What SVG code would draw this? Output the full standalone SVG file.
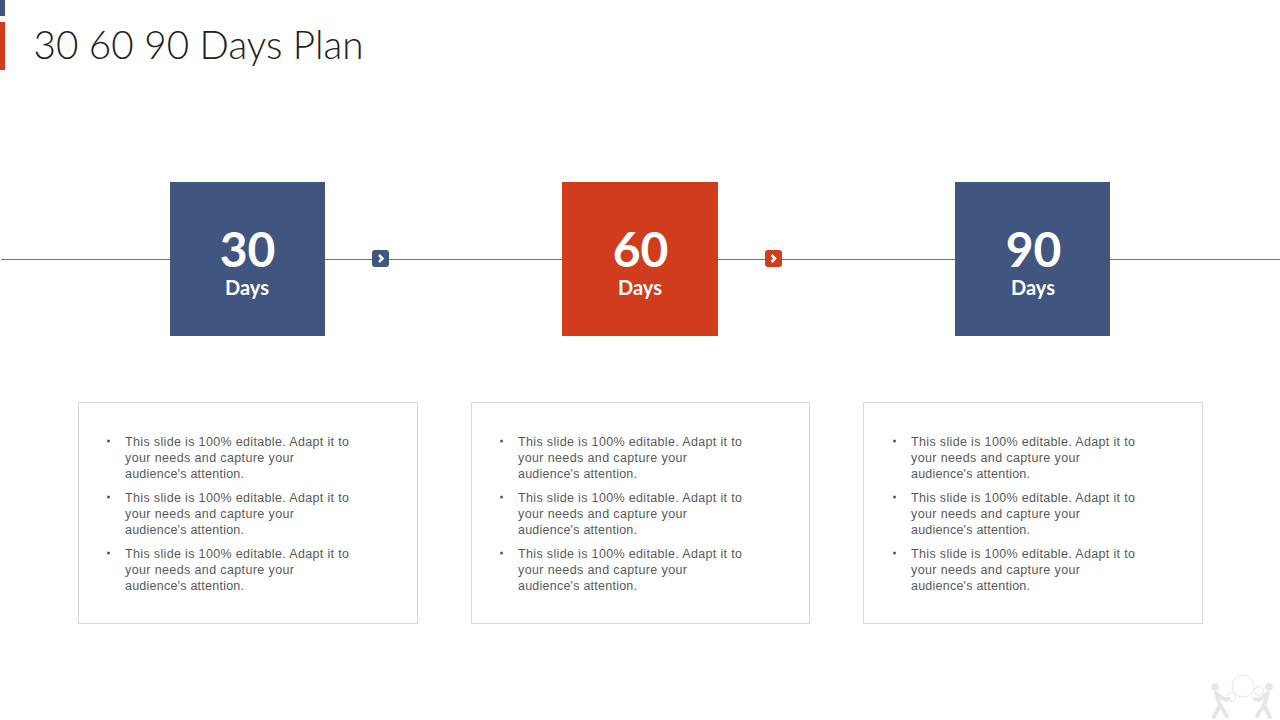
<svg xmlns="http://www.w3.org/2000/svg" width="1280" height="720" viewBox="0 0 1280 720">
<style>
.blue{fill:#40557f}.red{fill:#d03c1c}
.title{font:300 38.500px Lato,"Open Sans",sans-serif;fill:#222}
.num{font:700 48px Lato,"Open Sans",sans-serif;fill:#fff;text-anchor:middle}
.days{font:700 20px Lato,"Open Sans",sans-serif;fill:#fff;text-anchor:middle}
.box{fill:#fff;stroke:#d9d9d9;stroke-width:1}
.body{font:400 12.500px "Liberation Sans",Arial,sans-serif;fill:#595959}
.line{stroke:#6f7787;stroke-width:1;fill:none}
.chev{fill:none;stroke:#fff;stroke-width:2.500}
.fig{fill:#e6e6e6}.figl{stroke:#e6e6e6;stroke-width:4;fill:none;stroke-linecap:round;stroke-linejoin:round}
</style>
<defs>
<g id="bul">
<circle cx="0" cy="-4" r="1.500" fill="#595959"/>
</g>
<g id="copy">
<use href="#bul" x="108.500" y="445"/>
<text class="body" x="125" y="445.500" textLength="224">This slide is 100% editable. Adapt it to</text>
<text class="body" x="125" y="461.500" textLength="169">your needs and capture your</text>
<text class="body" x="125" y="477.500" textLength="119">audience's attention.</text>
<use href="#bul" x="108.500" y="501"/>
<text class="body" x="125" y="501.500" textLength="224">This slide is 100% editable. Adapt it to</text>
<text class="body" x="125" y="517.500" textLength="169">your needs and capture your</text>
<text class="body" x="125" y="533.500" textLength="119">audience's attention.</text>
<use href="#bul" x="108.500" y="557"/>
<text class="body" x="125" y="557.500" textLength="224">This slide is 100% editable. Adapt it to</text>
<text class="body" x="125" y="573.500" textLength="169">your needs and capture your</text>
<text class="body" x="125" y="589.500" textLength="119">audience's attention.</text>
</g>
</defs>
<rect width="1280" height="720" fill="#fff"/>
<g id="accent">
<rect class="blue" x="0" y="0" width="5" height="16"/>
<rect class="red" x="0" y="22" width="5" height="48"/>
</g>
<text id="title" class="title" x="33.500" y="59" textLength="330" lengthAdjust="spacingAndGlyphs">30 60 90 Days Plan</text>
<g id="connectors">
<path class="line" d="M1 259.500H170M325 259.500H562M718 259.500H955M1110 259.500H1280"/>
<g id="arrow-1"><rect class="blue" x="372" y="250" width="17" height="17" rx="3"/><path class="chev" d="M379 255l3.500 3.500-3.500 3.500"/></g>
<g id="arrow-2"><rect class="red" x="765" y="250" width="17" height="17" rx="3"/><path class="chev" d="M771.500 255l3.500 3.500-3.500 3.500"/></g>
</g>
<g id="node-30"><rect class="blue" x="170" y="182" width="155" height="154"/><text class="num" x="247.500" y="267">30</text><text class="days" x="247" y="295">Days</text></g>
<g id="node-60"><rect class="red" x="562" y="182" width="156" height="154"/><text class="num" x="640.500" y="267">60</text><text class="days" x="640" y="295">Days</text></g>
<g id="node-90"><rect class="blue" x="955" y="182" width="155" height="154"/><text class="num" x="1033.500" y="267">90</text><text class="days" x="1033" y="295">Days</text></g>
<g id="card-1"><rect class="box" x="78.500" y="402.500" width="339" height="221"/><use href="#copy"/></g>
<g id="card-2"><rect class="box" x="471.500" y="402.500" width="338" height="221"/><use href="#copy" x="393"/></g>
<g id="card-3"><rect class="box" x="863.500" y="402.500" width="339" height="221"/><use href="#copy" x="786"/></g>
<g id="logo">
<circle cx="1243" cy="686" r="11" fill="none" stroke="#e6e6e6" stroke-width="1"/>
<circle class="fig" cx="1215" cy="687" r="3.800"/>
<circle class="fig" cx="1269" cy="687" r="3.800"/>
<path class="figl" d="M1216 693l4 12-6 12M1220 705l7 11M1217 694l8 6 4-1"/>
<path class="figl" d="M1268 693l-4 12 6 12M1264 705l-7 11M1267 694l-8 6-4-1"/>
<circle cx="1231" cy="697" r="4.500" fill="none" stroke="#e6e6e6" stroke-width="1.500" stroke-dasharray="2 1"/>
<circle cx="1259" cy="691" r="4.500" fill="none" stroke="#e6e6e6" stroke-width="1.500" stroke-dasharray="2 1"/>
</g>
</svg>
